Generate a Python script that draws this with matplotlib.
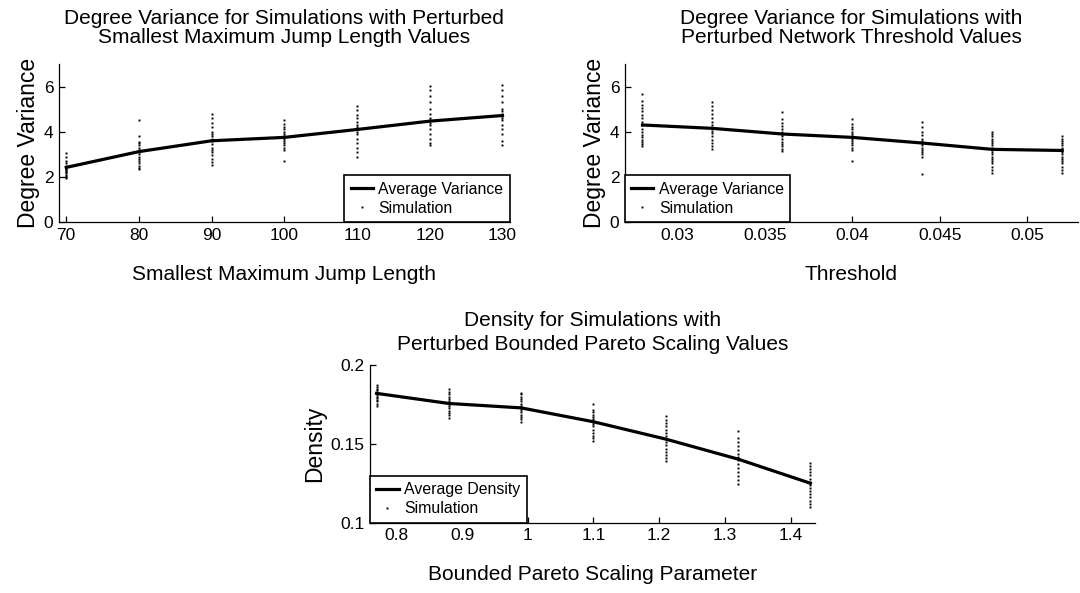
import matplotlib
matplotlib.use("Agg")
import matplotlib.pyplot as plt

plt.rcParams.update({'font.family': ['Liberation Sans', 'DejaVu Sans'], 'font.size': 12.5})

# panel 1: smallest maximum jump length
jump_x = [70, 80, 90, 100, 110, 120, 130]
jump_avg = [2.42, 3.12, 3.60, 3.75, 4.10, 4.47, 4.72]
jump_sims = [
    [1.94, 2.0, 2.05, 2.1, 2.15, 2.2, 2.25, 2.3, 2.35, 2.4, 2.45, 2.5, 2.6, 2.7, 2.9, 3.05],
    [2.34, 2.4, 2.5, 2.6, 2.7, 2.8, 2.9, 3.0, 3.1, 3.2, 3.3, 3.4, 3.5, 3.56, 3.81, 4.52],
    [2.53, 2.65, 2.8, 2.95, 3.1, 3.2, 3.3, 3.45, 3.6, 3.7, 3.8, 3.9, 4.0, 4.2, 4.4, 4.6, 4.79],
    [2.72, 3.19, 3.3, 3.4, 3.5, 3.6, 3.7, 3.8, 3.9, 4.0, 4.1, 4.2, 4.35, 4.52],
    [2.9, 3.1, 3.3, 3.5, 3.7, 3.9, 4.0, 4.1, 4.2, 4.3, 4.45, 4.6, 4.75, 4.95, 5.14],
    [3.41, 3.5, 3.7, 3.9, 4.1, 4.3, 4.4, 4.5, 4.6, 4.8, 5.0, 5.3, 5.6, 5.85, 6.03],
    [3.41, 3.6, 3.9, 4.1, 4.3, 4.5, 4.6, 4.7, 4.8, 4.9, 5.0, 5.3, 5.6, 5.85, 6.07],
]

# panel 2: network threshold
thresh_x = [0.028, 0.032, 0.036, 0.040, 0.044, 0.048, 0.052]
thresh_avg = [4.30, 4.15, 3.90, 3.75, 3.50, 3.22, 3.17]
thresh_sims = [
    [3.37, 3.45, 3.55, 3.65, 3.75, 3.85, 4.0, 4.1, 4.3, 4.45, 4.6, 4.75, 4.9, 5.05, 5.2, 5.35, 5.66],
    [3.22, 3.35, 3.5, 3.65, 3.8, 3.95, 4.05, 4.15, 4.3, 4.45, 4.6, 4.8, 4.95, 5.15, 5.33],
    [3.16, 3.25, 3.35, 3.45, 3.55, 3.7, 3.8, 3.9, 4.0, 4.1, 4.25, 4.4, 4.55, 4.86],
    [2.7, 3.19, 3.3, 3.4, 3.5, 3.6, 3.7, 3.8, 3.9, 4.0, 4.1, 4.2, 4.35, 4.55],
    [2.13, 2.87, 3.0, 3.1, 3.2, 3.3, 3.4, 3.5, 3.6, 3.7, 3.85, 4.0, 4.2, 4.45],
    [2.16, 2.3, 2.45, 2.6, 2.7, 2.8, 2.9, 3.0, 3.1, 3.2, 3.3, 3.4, 3.5, 3.6, 3.7, 3.8, 3.9, 4.0],
    [2.16, 2.3, 2.45, 2.6, 2.7, 2.8, 2.9, 3.0, 3.1, 3.2, 3.3, 3.4, 3.5, 3.6, 3.7, 3.81],
]

# panel 3: bounded pareto scaling
pareto_x = [0.77, 0.88, 0.99, 1.10, 1.21, 1.32, 1.43]
pareto_avg = [0.182, 0.1756, 0.1728, 0.164, 0.153, 0.1403, 0.125]
pareto_sims = [
    [0.174, 0.1755, 0.177, 0.178, 0.179, 0.180, 0.181, 0.182, 0.183, 0.184, 0.185, 0.186, 0.1876],
    [0.1665, 0.168, 0.1695, 0.171, 0.1725, 0.174, 0.175, 0.176, 0.177, 0.1785, 0.180, 0.1815, 0.183, 0.185],
    [0.164, 0.1655, 0.167, 0.1685, 0.170, 0.1715, 0.173, 0.174, 0.1755, 0.177, 0.1785, 0.180, 0.1815, 0.1825],
    [0.152, 0.1535, 0.155, 0.157, 0.159, 0.161, 0.1625, 0.164, 0.1655, 0.167, 0.1685, 0.170, 0.1715, 0.175],
    [0.139, 0.141, 0.143, 0.145, 0.147, 0.149, 0.151, 0.153, 0.155, 0.157, 0.159, 0.161, 0.163, 0.165, 0.1675],
    [0.1245, 0.127, 0.1295, 0.132, 0.1345, 0.137, 0.1395, 0.1415, 0.1435, 0.146, 0.1485, 0.151, 0.154, 0.158],
    [0.110, 0.112, 0.114, 0.116, 0.118, 0.120, 0.122, 0.124, 0.126, 0.128, 0.130, 0.132, 0.134, 0.136, 0.138],
]


def draw_panel(ax, xs, avg, sims, avg_label, title, xlabel, ylabel, legend_loc,
               title_spacing=1.0, title_pad=15):
    # simulation runs as tiny dots, one column per parameter value
    for x, col in zip(xs, sims):
        ax.plot([x] * len(col), col, linestyle='none', marker='s', markersize=1.4,
                color='black', markeredgewidth=0, label='_nolegend_')
    ax.plot(xs, avg, color='black', linewidth=2.3, label=avg_label)
    ax.plot([], [], linestyle='none', marker='s', markersize=1.4, color='black',
            markeredgewidth=0, label='Simulation')

    ax.set_title(title, fontsize=15, linespacing=title_spacing, pad=title_pad)
    ax.set_xlabel(xlabel, fontsize=15, labelpad=16)
    ax.set_ylabel(ylabel, fontsize=16.5, labelpad=3)
    ax.spines['top'].set_visible(False)
    ax.spines['right'].set_visible(False)
    for s in ['left', 'bottom']:
        ax.spines[s].set_linewidth(0.9)
    ax.tick_params(direction='in', length=4, width=0.9, pad=4, labelsize=12.5)

    leg = ax.legend(loc=legend_loc, borderaxespad=0, fancybox=False, fontsize=11.4,
                    handlelength=1.4, handletextpad=0.35, borderpad=0.4,
                    labelspacing=0.25, framealpha=1)
    leg.get_frame().set_edgecolor('black')
    leg.get_frame().set_linewidth(1.2)


fig = plt.figure(figsize=(10.8, 5.93), dpi=100)

ax1 = fig.add_axes([0.0546, 0.6256, 0.4174, 0.2664])
draw_panel(ax1, jump_x, jump_avg, jump_sims, 'Average Variance',
           'Degree Variance for Simulations with Perturbed\nSmallest Maximum Jump Length Values',
           'Smallest Maximum Jump Length', 'Degree Variance', 'lower right')
ax1.set_xlim(69, 131)
ax1.set_ylim(0, 7)
ax1.set_xticks(jump_x)
ax1.set_yticks([0, 2, 4, 6])

ax2 = fig.add_axes([0.5787, 0.6256, 0.4193, 0.2664])
draw_panel(ax2, thresh_x, thresh_avg, thresh_sims, 'Average Variance',
           'Degree Variance for Simulations with\nPerturbed Network Threshold Values',
           'Threshold', 'Degree Variance', 'lower left')
ax2.set_xlim(0.027, 0.0529)
ax2.set_ylim(0, 7)
ax2.set_xticks([0.03, 0.035, 0.04, 0.045, 0.05])
ax2.set_xticklabels(['0.03', '0.035', '0.04', '0.045', '0.05'])
ax2.set_yticks([0, 2, 4, 6])

ax3 = fig.add_axes([0.3426, 0.1186, 0.4120, 0.2659])
draw_panel(ax3, pareto_x, pareto_avg, pareto_sims, 'Average Density',
           'Density for Simulations with\nPerturbed Bounded Pareto Scaling Values',
           'Bounded Pareto Scaling Parameter', 'Density', 'lower left',
           title_spacing=1.3, title_pad=11)
ax3.set_xlim(0.76, 1.437)
ax3.set_ylim(0.1, 0.2)
ax3.set_xticks([0.8, 0.9, 1.0, 1.1, 1.2, 1.3, 1.4])
ax3.set_xticklabels(['0.8', '0.9', '1', '1.1', '1.2', '1.3', '1.4'])
ax3.set_yticks([0.1, 0.15, 0.2])
ax3.set_yticklabels(['0.1', '0.15', '0.2'])

fig.savefig('out.png', dpi=100)
